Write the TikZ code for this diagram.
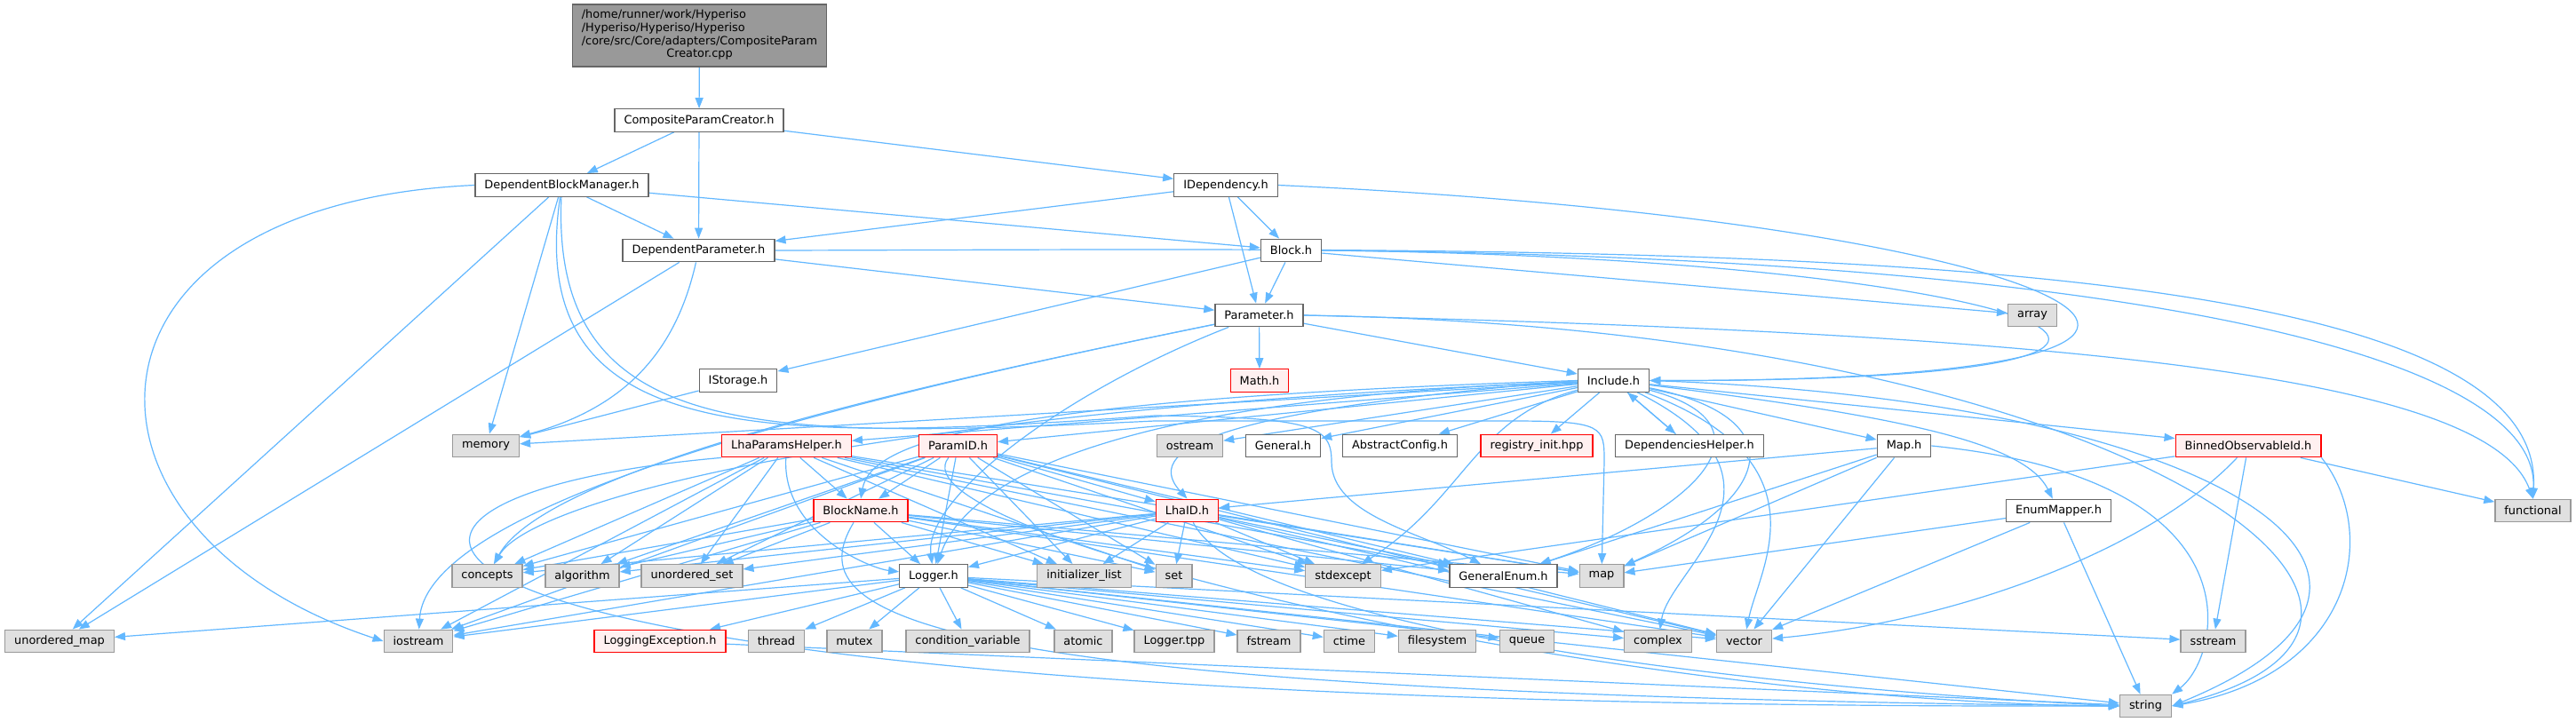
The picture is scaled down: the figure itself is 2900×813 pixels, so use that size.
\documentclass[tikz,border=0pt]{standalone}
\usepackage{fontspec}
\setmainfont{DejaVu Sans}
\usetikzlibrary{arrows.meta}
\definecolor{edgeblue}{HTML}{63B8FF}
\definecolor{sysfill}{HTML}{E0E0E0}
\definecolor{sysline}{HTML}{999999}
\definecolor{hdrline}{HTML}{666666}
\definecolor{redfill}{HTML}{FFF0F0}
\definecolor{mainfill}{HTML}{999999}
\pgfdeclarelayer{bg}
\pgfsetlayers{bg,main}

\begin{document}
\begin{tikzpicture}[x=1pt,y=-1pt,
    font=\fontsize{12.9}{14.7}\selectfont,
    box/.style={draw,line width=1.3pt,minimum height=25.5pt,inner xsep=10.5pt,inner ysep=0pt},
    hdr/.style={box,draw=hdrline,fill=white},
    trunc/.style={box,draw=red,fill=redfill},
    sys/.style={box,draw=sysline,fill=sysfill},
    mainbox/.style={box,draw=hdrline,fill=mainfill,minimum height=70pt},
    inc/.style={draw=edgeblue,line width=1.2pt,-{Triangle[length=12pt,width=9pt]}}]
      \useasboundingbox (0,0) rectangle (2900,813);
      \draw
        (787.5,40) node[mainbox] (main){\begin{tabular}{@{}l@{}}/home/runner/work/Hyperiso\\/Hyperiso/Hyperiso/Hyperiso\\/core/src/Core/adapters/CompositeParam\\\multicolumn{1}{@{}c@{}}{Creator.cpp}\end{tabular}}
        (787,135.5) node[hdr] (cpc){CompositeParamCreator.h}
        (632.5,208.5) node[hdr] (dbm){DependentBlockManager.h}
        (1380,208.5) node[hdr] (idep){IDependency.h}
        (786.5,282) node[hdr] (dpar){DependentParameter.h}
        (1453.5,282) node[hdr] (block){Block.h}
        (1417.5,355) node[hdr] (param){Parameter.h}
        (2288,355) node[sys] (array){array}
        (831,428.5) node[hdr] (istorage){IStorage.h}
        (1418,428.5) node[trunc] (math){Math.h}
        (1816.5,428.5) node[hdr] (include){Include.h}
        (547,502) node[sys] (memory){memory}
        (885.5,502) node[trunc] (lhaph){LhaParamsHelper.h}
        (1078.5,502) node[trunc] (paramid){ParamID.h}
        (1339.5,502) node[sys] (ostream){ostream}
        (1444.5,502) node[hdr] (general){General.h}
        (1576,502) node[hdr] (absconf){AbstractConfig.h}
        (1730,502) node[trunc] (registry){registry\_init.hpp}
        (1902,502) node[hdr] (dephelp){DependenciesHelper.h}
        (2143.5,502) node[hdr] (maph){Map.h}
        (2531,502) node[trunc] (binned){BinnedObservableId.h}
        (969,575) node[trunc] (blockname){BlockName.h}
        (1336.5,575) node[trunc] (lhaid){LhaID.h}
        (2317.5,575) node[hdr] (enummap){EnumMapper.h}
        (2851.5,575) node[sys] (functional){functional}
        (548.5,648.5) node[sys] (concepts){concepts}
        (655.5,648.5) node[sys] (algorithm){algorithm}
        (779,648.5) node[sys] (uset){unordered\_set}
        (1051,648.5) node[hdr] (logger){Logger.h}
        (1220.5,648.5) node[sys] (initlist){initializer\_list}
        (1321.5,648.5) node[sys] (set){set}
        (1512,648.5) node[sys] (stdexcept){stdexcept}
        (1692.5,648.5) node[hdr] (genenum){GeneralEnum.h}
        (1803,648.5) node[sys] (map){map}
        (67,722) node[sys] (umap){unordered\_map}
        (471,722) node[sys] (iostream){iostream}
        (743,722) node[trunc] (logexc){LoggingException.h}
        (874,722) node[sys] (thread){thread}
        (962,722) node[sys] (mutex){mutex}
        (1089.5,722) node[sys] (condvar){condition\_variable}
        (1219.5,722) node[sys] (atomic){atomic}
        (1322,722) node[sys] (loggertpp){Logger.tpp}
        (1428.5,722) node[sys] (fstream){fstream}
        (1519,722) node[sys] (ctime){ctime}
        (1618,722) node[sys] (filesystem){filesystem}
        (1719,722) node[sys] (queue){queue}
        (1866.5,722) node[sys] (complex){complex}
        (1963.5,722) node[sys] (vector){vector}
        (2491.5,722) node[sys] (sstream){sstream}
        (2415.5,795) node[sys] (string){string};
      \begin{pgfonlayer}{bg}
      \fill[white] (0,0) rectangle (2900,813);
      \begin{scope}[inc]
        \draw (main) to (cpc);
        \draw (cpc) to (dbm);
        \draw (cpc) to (dpar);
        \draw (cpc) to (idep);

        \draw (dbm) to (dpar);
        \draw (dbm) to (block);
        \draw (dbm) to (memory);
        \draw (dbm) to (umap);
        \draw (dbm.west) .. controls (60,230) and (60,600) .. (iostream.west);
        \draw (dbm) .. controls (590,500) and (850,500) .. (1300,468) .. controls (1480,470) and (1499,480) .. (1499,520) .. controls (1499,580) and (1600,600) .. (genenum);
        \draw (dbm) .. controls (620,500) and (860,495) .. (1300,474) -- (1700,474) .. controls (1806,474) and (1806,480) .. (1806,520) -- (map);

        \draw (idep) to (dpar);
        \draw (idep) to (block);
        \draw (idep) to (param);
        \draw (idep.east) .. controls (2350,250) and (2700,430) .. (include.east);

        \draw (dpar) to (param);
        \draw (dpar) .. controls (760,400) and (700,460) .. (memory);
        \draw (dpar) to (umap);
        \draw (dpar.east) .. controls (1800,280) and (2870,260) .. (functional.north);

        \draw (block) to (param);
        \draw (block) to (istorage);
        \draw (block) to (array);
        \draw (block.east) .. controls (2300,290) and (2650,430) .. (include.east);
        \draw (block.east) .. controls (2400,290) and (2860,400) .. (functional.north);

        \draw (istorage) to (memory);

        \draw (param) to (math);
        \draw (param) to (include);
        \draw (param.east) .. controls (2300,375) and (2800,420) .. (functional.north);
        \draw (param.east) .. controls (2400,370) and (2830,700) .. (string.east);
        \draw (param) .. controls (1100,420) and (620,520) .. (concepts);
        \draw (param) .. controls (1000,440) and (480,560) .. (iostream);
        \draw (param) .. controls (1200,440) and (1040,560) .. (logger);

        \draw (include) to (memory);
        \draw (include) to (ostream);
        \draw (include) to (general);
        \draw (include) to (absconf);
        \draw (include) to (registry);
        \draw (include) to (dephelp);
        \draw (include) to (maph);
        \draw (include) to (binned);
        \draw (include) .. controls (2150,470) and (2280,500) .. (enummap);
        \draw (include) to (paramid);
        \draw (include) to (lhaph);
        \draw (include.west) .. controls (1100,450) and (980,500) .. (blockname.north);
        \draw (include.west) .. controls (1400,460) and (1280,500) .. (lhaid.north);
        \draw (include) .. controls (1200,450) and (1080,560) .. (logger);
        \draw (include) .. controls (1000,460) and (600,560) .. (concepts);
        \draw (include) .. controls (2010,480) and (1900,580) .. (genenum);
        \draw (include) .. controls (2020,470) and (2000,560) .. (map);
        \draw (include) .. controls (2060,520) and (1980,640) .. (vector);
        \draw (include.east) .. controls (2500,450) and (2800,650) .. (string.east);
        \draw (include) .. controls (1660,470) and (1650,560) .. (stdexcept);
        \draw (include) .. controls (2040,540) and (1880,640) .. (complex);

        \draw (dephelp) to (include);

        \draw (maph) to (lhaid);
        \draw (maph) to (genenum);
        \draw (maph) to (map);
        \draw (maph) to (vector);
        \draw (maph.east) .. controls (2550,540) and (2500,740) .. (string.north east);

        \draw (binned) to (functional);
        \draw (binned) to (sstream);
        \draw (binned) .. controls (2420,620) and (2200,700) .. (vector);
        \draw (binned.south east) .. controls (2680,600) and (2650,760) .. (string.east);
        \draw (binned) to (stdexcept);

        \draw (enummap) to (map);
        \draw (enummap) to (vector);
        \draw (enummap) to (string);

        \draw (paramid) to (blockname);
        \draw (paramid) to (lhaid);
        \draw (paramid) to (logger);
        \draw (paramid) to (initlist);
        \draw (paramid) to (set);
        \draw (paramid) to (stdexcept);
        \draw (paramid) to (genenum);
        \draw (paramid) to (map);
        \draw (paramid) to (vector);
        \draw (paramid) .. controls (1000,600) and (1800,790) .. (string.west);
        \draw (paramid) to (concepts);
        \draw (paramid) to (algorithm);
        \draw (paramid) to (uset);
        \draw (paramid) to (iostream);

        \draw (lhaph) to (blockname);
        \draw (lhaph) .. controls (880,600) and (980,640) .. (logger);
        \draw (lhaph) to (concepts);
        \draw (lhaph) to (algorithm);
        \draw (lhaph) to (uset);
        \draw (lhaph) to (iostream);
        \draw (lhaph) to (initlist);
        \draw (lhaph) to (set);
        \draw (lhaph) to (map);
        \draw (lhaph) to (vector);
        \draw (lhaph.south west) .. controls (300,560) and (300,800) .. (string.west);
        \draw (lhaph) to (genenum);
        \draw (lhaph) to (stdexcept);

        \draw (blockname) to (logger);
        \draw (blockname) to (concepts);
        \draw (blockname) to (algorithm);
        \draw (blockname) to (uset);
        \draw (blockname) to (iostream);
        \draw (blockname) to (initlist);
        \draw (blockname) to (set);
        \draw (blockname) to (map);
        \draw (blockname) .. controls (900,690) and (1000,780) .. (string.west);
        \draw (blockname) to (genenum);
        \draw (blockname) to (stdexcept);
        \draw (blockname) to (vector);

        \draw (lhaid) to (logger);
        \draw (lhaid) to (initlist);
        \draw (lhaid) to (set);
        \draw (lhaid) to (stdexcept);
        \draw (lhaid) to (genenum);
        \draw (lhaid) to (map);
        \draw (lhaid) to (vector);
        \draw (lhaid) .. controls (1400,700) and (1900,770) .. (string.west);
        \draw (lhaid) to (concepts);
        \draw (lhaid) to (algorithm);
        \draw (lhaid) to (uset);
        \draw (lhaid) to (complex);
        \draw (lhaid) to (iostream);

        \draw (logger) to (umap);
        \draw (logger) to (iostream);
        \draw (logger) to (logexc);
        \draw (logger) to (thread);
        \draw (logger) to (mutex);
        \draw (logger) to (condvar);
        \draw (logger) to (atomic);
        \draw (logger) to (loggertpp);
        \draw (logger) to (fstream);
        \draw (logger) to (ctime);
        \draw (logger) to (filesystem);
        \draw (logger) to (queue);
        \draw (logger) to (complex);
        \draw (logger) to (vector);
        \draw (logger) to (sstream);
        \draw (logger) to (string);

        \draw (logexc) to (string);
      \end{scope}
      \end{pgfonlayer}
    \end{tikzpicture}
\end{document}
